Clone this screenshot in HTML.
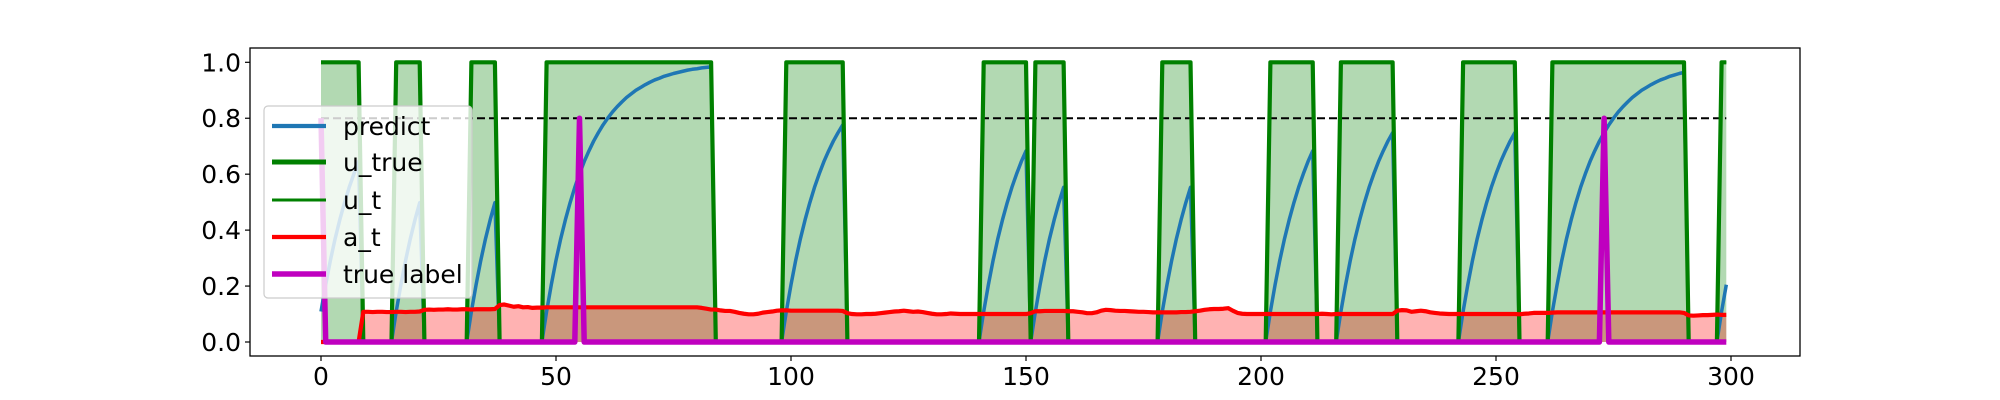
<!DOCTYPE html>
<html><head><meta charset="utf-8">
<style>
html,body{margin:0;padding:0;background:#fff;}
svg{display:block;}
text{font-family:"DejaVu Sans","Liberation Sans",sans-serif;font-size:25px;fill:#000;}
</style></head>
<body>
<svg id="chart" width="2000" height="400" viewBox="0 0 2000 400" xmlns="http://www.w3.org/2000/svg">
<rect x="0" y="0" width="2000" height="400" fill="#fff"/>
<g id="plot"></g>
<g id="axes"></g>
<g id="legend"></g>
</svg>
<script>
const xTicks = [0, 50, 100, 150, 200, 250, 300];
const yTicks = [0.0, 0.2, 0.4, 0.6, 0.8, 1.0];
const yTickLabels = ["0.0", "0.2", "0.4", "0.6", "0.8", "1.0"];
const threshold = 0.8;
const legendLabels = ["predict", "u_true", "u_t", "a_t", "true label"];

const predict = [
.109,.205,.292,.369,.437,.498,.553,.601,.645,0,
0,0,0,0,0,0,.109,.205,.292,.369,
.437,.498,0,0,0,0,0,0,0,0,
0,0,.109,.205,.292,.369,.437,.498,0,0,
0,0,0,0,0,0,0,0,.109,.205,
.292,.369,.437,.498,.553,.601,.645,.683,.718,.748,
.776,.800,.822,.841,.858,.874,.887,.900,.910,.920,
.929,.937,.943,.950,.955,.960,.964,.968,.972,.975,
.977,.980,.982,.984,0,0,0,0,0,0,
0,0,0,0,0,0,0,0,0,.109,
.205,.292,.369,.437,.498,.553,.601,.645,.683,.718,
.748,.776,0,0,0,0,0,0,0,0,
0,0,0,0,0,0,0,0,0,0,
0,0,0,0,0,0,0,0,0,0,
0,.109,.205,.292,.369,.437,.498,.553,.601,.645,
.683,0,.109,.205,.292,.369,.437,.498,.553,0,
0,0,0,0,0,0,0,0,0,0,
0,0,0,0,0,0,0,0,0,.109,
.205,.292,.369,.437,.498,.553,0,0,0,0,
0,0,0,0,0,0,0,0,0,0,
0,0,.109,.205,.292,.369,.437,.498,.553,.601,
.645,.683,0,0,0,0,0,.109,.205,.292,
.369,.437,.498,.553,.601,.645,.683,.718,.748,0,
0,0,0,0,0,0,0,0,0,0,
0,0,0,.109,.205,.292,.369,.437,.498,.553,
.601,.645,.683,.718,.748,0,0,0,0,0,
0,0,.109,.205,.292,.369,.437,.498,.553,.601,
.645,.683,.718,.748,.776,.800,.822,.841,.858,.874,
.887,.900,.910,.920,.929,.937,.943,.950,.955,.960,
.964,0,0,0,0,0,0,0,.109,.205
];

const uTrue = [
1,1,1,1,1,1,1,1,1,0,
0,0,0,0,0,0,1,1,1,1,
1,1,0,0,0,0,0,0,0,0,
0,0,1,1,1,1,1,1,0,0,
0,0,0,0,0,0,0,0,1,1,
1,1,1,1,1,1,1,1,1,1,
1,1,1,1,1,1,1,1,1,1,
1,1,1,1,1,1,1,1,1,1,
1,1,1,1,0,0,0,0,0,0,
0,0,0,0,0,0,0,0,0,1,
1,1,1,1,1,1,1,1,1,1,
1,1,0,0,0,0,0,0,0,0,
0,0,0,0,0,0,0,0,0,0,
0,0,0,0,0,0,0,0,0,0,
0,1,1,1,1,1,1,1,1,1,
1,0,1,1,1,1,1,1,1,0,
0,0,0,0,0,0,0,0,0,0,
0,0,0,0,0,0,0,0,0,1,
1,1,1,1,1,1,0,0,0,0,
0,0,0,0,0,0,0,0,0,0,
0,0,1,1,1,1,1,1,1,1,
1,1,0,0,0,0,0,1,1,1,
1,1,1,1,1,1,1,1,1,0,
0,0,0,0,0,0,0,0,0,0,
0,0,0,1,1,1,1,1,1,1,
1,1,1,1,1,0,0,0,0,0,
0,0,1,1,1,1,1,1,1,1,
1,1,1,1,1,1,1,1,1,1,
1,1,1,1,1,1,1,1,1,1,
1,0,0,0,0,0,0,0,1,1
];

const aT = [
0,0,0,0,0,0,0,0,0,.108,
.108,.107,.108,.108,.107,.107,.108,.108,.107,.108,
.108,.109,.115,.116,.115,.116,.116,.117,.116,.116,
.117,.117,.116,.117,.117,.117,.117,.118,.132,.134,
.130,.126,.128,.124,.125,.122,.123,.123,.124,.124,
.124,.124,.124,.124,.124,.124,.124,.124,.124,.124,
.124,.124,.124,.124,.124,.124,.124,.124,.124,.124,
.124,.124,.124,.124,.124,.124,.124,.124,.124,.124,
.124,.122,.119,.116,.116,.113,.111,.111,.108,.104,
.101,.099,.099,.101,.105,.107,.109,.112,.113,.113,
.112,.112,.112,.112,.112,.112,.112,.112,.112,.112,
.112,.111,.103,.100,.099,.099,.100,.100,.101,.103,
.105,.107,.109,.110,.112,.110,.108,.109,.107,.104,
.101,.099,.099,.100,.102,.101,.100,.100,.100,.100,
.100,.100,.100,.100,.100,.100,.100,.100,.100,.100,
.100,.103,.110,.110,.111,.111,.111,.111,.111,.110,
.110,.108,.106,.103,.103,.106,.112,.115,.114,.112,
.111,.111,.110,.109,.108,.108,.107,.106,.106,.106,
.106,.106,.106,.107,.107,.108,.110,.112,.115,.117,
.118,.118,.119,.121,.112,.104,.101,.100,.100,.100,
.100,.100,.100,.100,.100,.100,.100,.100,.100,.100,
.100,.100,.100,.101,.100,.099,.100,.100,.100,.100,
.100,.100,.100,.100,.100,.100,.100,.100,.100,.112,
.114,.113,.108,.110,.112,.110,.106,.104,.102,.101,
.100,.100,.100,.100,.100,.100,.100,.100,.100,.100,
.100,.100,.100,.100,.100,.099,.101,.102,.104,.104,
.104,.104,.105,.106,.106,.106,.106,.106,.106,.106,
.106,.106,.106,.106,.106,.106,.106,.106,.106,.106,
.106,.106,.106,.106,.106,.106,.106,.106,.106,.106,
.104,.095,.094,.095,.096,.096,.097,.098,.097,.097
];

const labelIdx = [0, 55, 273];
const labelVal = [0.8, 0.8, 0.8];

const NS = "http://www.w3.org/2000/svg";
const AX = {l:250, r:1800, t:48, b:356};
const X = v => 321 + v * 4.70;
const Y = v => 342 - v * 279.7;

function mk(tag, attrs, parent) {
  const e = document.createElementNS(NS, tag);
  for (const k in attrs) e.setAttribute(k, attrs[k]);
  parent.appendChild(e);
  return e;
}
function pts(arr) { return arr.map((v, i) => X(i).toFixed(2) + "," + Y(v).toFixed(2)).join(" "); }
function area(arr) { return X(0) + "," + Y(0) + " " + pts(arr) + " " + X(arr.length - 1) + "," + Y(0); }

const plot = document.getElementById("plot");
const axes = document.getElementById("axes");
const legend = document.getElementById("legend");

const labels = predict.map(() => 0);
labelIdx.forEach((ix, j) => { labels[ix] = labelVal[j]; });

// fills
const gFill = mk("polygon", {points: area(uTrue), fill: "#008000", "fill-opacity": 0.3, stroke: "none"}, plot);


const rFill = mk("polygon", {points: area(aT), fill: "#ff0000", "fill-opacity": 0.3, stroke: "none"}, plot);



// threshold line
const th = mk("line", {x1: X(0), x2: X(predict.length - 1), y1: Y(threshold), y2: Y(threshold), stroke: "#000", "stroke-width": 2, "stroke-dasharray": "8,4"}, plot);



const common = {fill: "none", "stroke-linejoin": "round", "stroke-linecap": "butt"};
const lp = mk("polyline", Object.assign({points: pts(predict), stroke: "#1f77b4", "stroke-width": 3.5}, common), plot);


const lu = mk("polyline", Object.assign({points: pts(uTrue), stroke: "#008000", "stroke-width": 4.2}, common), plot);


const lut = mk("polyline", Object.assign({points: pts(uTrue), stroke: "#008000", "stroke-width": 2.5}, common), plot);


const la = mk("polyline", Object.assign({points: pts(aT), stroke: "#ff0000", "stroke-width": 4.2}, common), plot);


const ll = mk("polyline", Object.assign({points: pts(labels), stroke: "#bf00bf", "stroke-width": 5.5}, common), plot);



// axes frame
const frame = mk("rect", {x: AX.l, y: AX.t, width: AX.r - AX.l, height: AX.b - AX.t, fill: "none", stroke: "#000", "stroke-width": 1.3}, axes);



xTicks.forEach(v => {
  const t = mk("line", {x1: X(v), x2: X(v), y1: AX.b, y2: AX.b + 5, stroke: "#000", "stroke-width": 1.2}, axes);
  
  
  const tx = mk("text", {x: X(v), y: 385, "text-anchor": "middle"}, axes);
  tx.textContent = String(v);
  
  
});
yTicks.forEach((v, i) => {
  const t = mk("line", {x1: AX.l - 5, x2: AX.l, y1: Y(v), y2: Y(v), stroke: "#000", "stroke-width": 1.2}, axes);
  
  
  const tx = mk("text", {x: 241, y: Y(v) + 9, "text-anchor": "end"}, axes);
  tx.textContent = yTickLabels[i];
  
  
});

// legend
const lbox = mk("rect", {x: 264, y: 106, width: 208, height: 192, rx: 4, fill: "#fff", "fill-opacity": 0.8, stroke: "#cccccc", "stroke-width": 1.2}, legend);


const legColors = ["#1f77b4", "#008000", "#008000", "#ff0000", "#bf00bf"];
const legWidths = [4.2, 5, 3, 4.2, 5.5];
const legY = [126, 162, 200, 237, 274];
legendLabels.forEach((name, i) => {
  const h = mk("line", {x1: 272, x2: 326, y1: legY[i], y2: legY[i], stroke: legColors[i], "stroke-width": legWidths[i]}, legend);
  
  
  const t = mk("text", {x: 343, y: legY[i] + 9}, legend);
  t.textContent = name;
  
  
});
</script>
</body></html>
